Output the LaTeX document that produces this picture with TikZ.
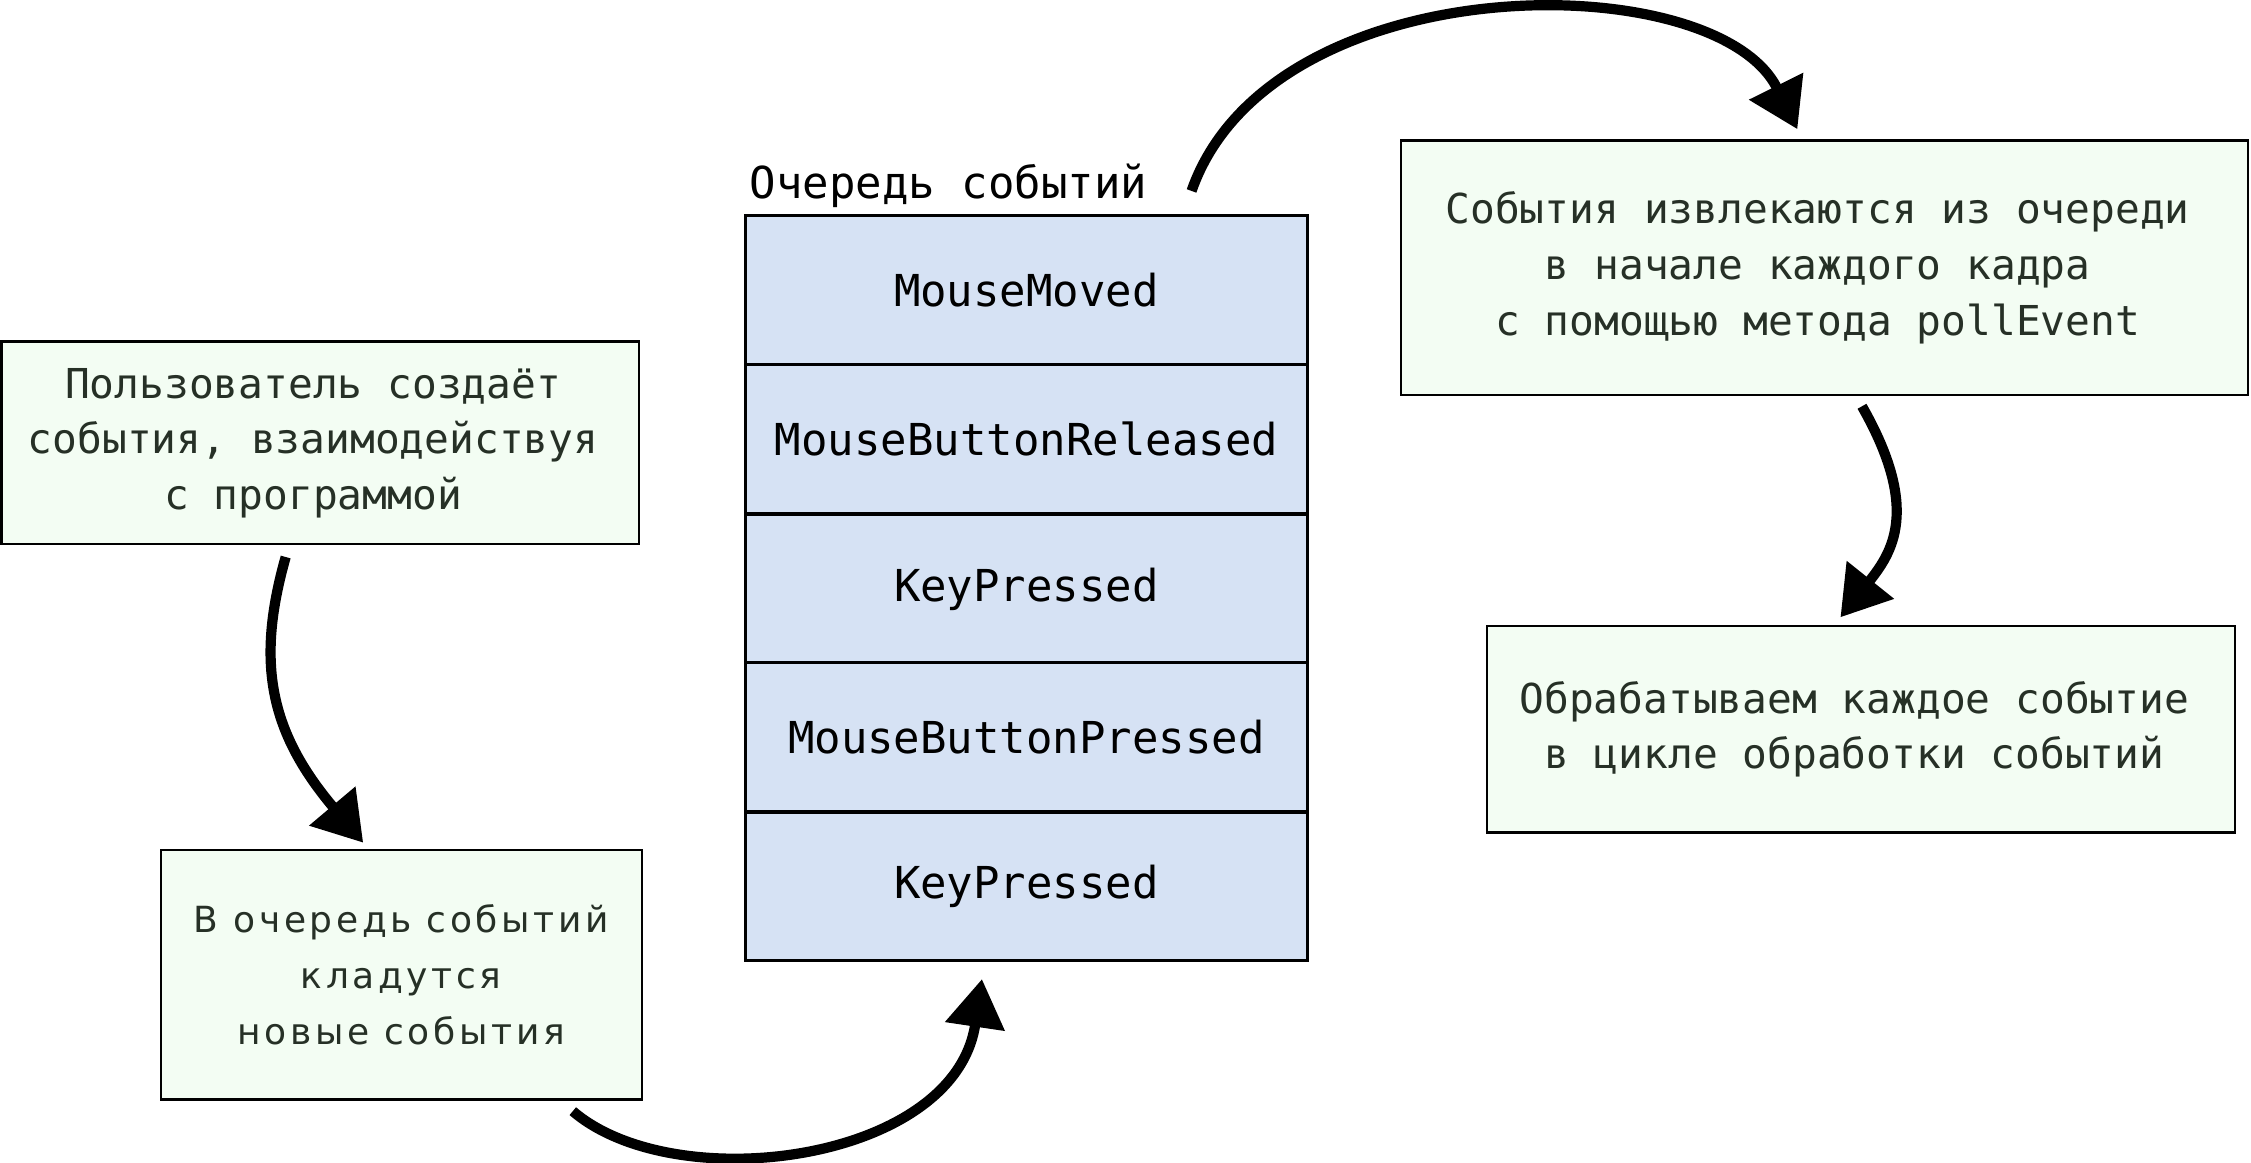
\documentclass[tikz,border=0pt]{standalone}
\usepackage{fontspec}
\setmonofont{DejaVu Sans Mono}
\newfontfamily\spacedfont[LetterSpace=10]{DejaVu Sans}
\usetikzlibrary{arrows.meta}
\definecolor{boxfill}{HTML}{F3FDF3}
\definecolor{qfill}{HTML}{D6E2F4}
\definecolor{txt}{HTML}{263026}
\newcommand{\tl}{\kern7pt}
\begin{document}
\begin{tikzpicture}[x=0.7178pt,y=-0.7178pt,
  infobox/.style={draw=black,line width=1.2pt,fill=boxfill,text=txt,inner sep=0pt,
    align=center,font=\ttfamily\fontsize{20.6}{27.8}\selectfont},
  qrow/.style={draw=black,line width=1.5pt,fill=qfill,inner sep=0pt,
    font=\ttfamily\fontsize{22}{28}\selectfont},
  flow/.style={line width=5.1pt,-{Triangle[length=24pt,width=29pt]}}]
\useasboundingbox (0,0) rectangle (1568,810);
% boxes
\node[infobox,minimum width=444*0.7178pt,minimum height=141*0.7178pt] (b1) at (223,308.5)
  {Пользователь создаёт\tl\\события, взаимодействуя\tl\\с программой\tl};
\node[infobox,minimum width=335*0.7178pt,minimum height=174*0.7178pt,
  font=\spacedfont\fontsize{18}{27.8}\selectfont] (b2) at (279.5,679)
  {В очередь событий\\кладутся\\новые события};
\node[infobox,minimum width=590*0.7178pt,minimum height=177*0.7178pt] (b3) at (1271,186.5)
  {События извлекаются из очереди\tl\\в начале каждого кадра\tl\\с помощью метода pollEvent\tl};
\node[infobox,minimum width=521*0.7178pt,minimum height=144*0.7178pt] (b4) at (1296.5,508)
  {Обрабатываем каждое событие\tl\\в цикле обработки событий\tl};
% queue
\foreach \n/\y/\t in {q1/202/MouseMoved,q2/306/MouseButtonReleased,q3/410.5/KeyPressed,
    q4/513.5/MouseButtonPressed,q5/617.5/KeyPressed}{
  \node[qrow,minimum width=392*0.7178pt,minimum height=103.6*0.7178pt] (\n) at (715,\y) {\t};
}
\node[anchor=base west,inner sep=0pt,font=\ttfamily\fontsize{22}{28}\selectfont] (qlabel) at (522,138) {Очередь событий};
% connector ends
\coordinate (s1) at (199,388); \coordinate (e1) at (253,587);
\coordinate (s2) at (399,774); \coordinate (e2) at (684,682);
\coordinate (s3) at (830,133); \coordinate (e3) at (1252,90);
\coordinate (s4) at (1297,283); \coordinate (e4) at (1282,430);
\draw[flow] (s1) .. controls (178,462) and (188,510) .. (e1);
\draw[flow] (s2) .. controls (470,835) and (665,810) .. (e2);
\draw[flow] (s3) .. controls (885,-25) and (1195,-25) .. (e3);
\draw[flow] (s4) .. controls (1338,355) and (1318,385) .. (e4);
\end{tikzpicture}
\end{document}
